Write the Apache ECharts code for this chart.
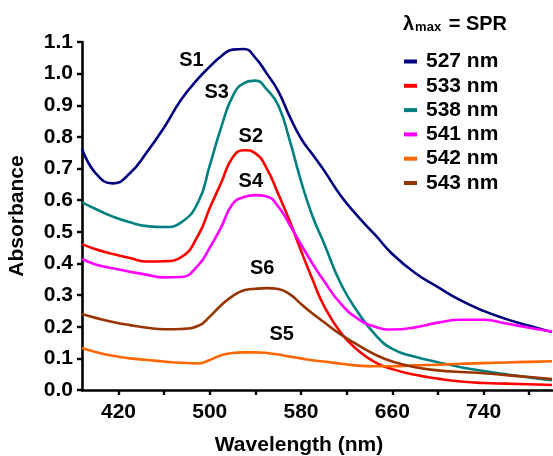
<!DOCTYPE html>
<html>
<head>
<meta charset="utf-8">
<script src="https://cdn.jsdelivr.net/npm/echarts@6/dist/echarts.min.js"></script>
<style>
html,body{margin:0;padding:0;background:#fff;}
#chart{width:553px;height:456px;}
</style>
</head>
<body>
<div id="chart"></div>
<script>
// Wavelength grid (nm)
const wavelength = [388,400,415,430,445,460,475,490,500,510,520,530,540,550,560,570,580,590,600,615,630,645,660,680,700,720,740,760,780,800];
// Absorbance values per sample
const s1_527 = [0.763,0.685,0.653,0.685,0.752,0.83,0.918,0.985,1.022,1.055,1.076,1.078,1.05,1.0,0.945,0.865,0.795,0.745,0.695,0.613,0.548,0.49,0.43,0.37,0.325,0.283,0.25,0.224,0.203,0.183];
const s2_533 = [0.461,0.445,0.43,0.417,0.406,0.407,0.42,0.49,0.575,0.655,0.735,0.758,0.748,0.70,0.62,0.535,0.44,0.35,0.267,0.18,0.125,0.087,0.066,0.048,0.036,0.027,0.022,0.02,0.018,0.016];
const s3_538 = [0.593,0.572,0.548,0.53,0.518,0.515,0.53,0.595,0.71,0.83,0.928,0.97,0.978,0.95,0.90,0.79,0.66,0.55,0.465,0.335,0.245,0.175,0.13,0.105,0.088,0.072,0.06,0.05,0.04,0.031];
const s4_541 = [0.414,0.397,0.385,0.374,0.364,0.356,0.357,0.395,0.45,0.515,0.588,0.61,0.616,0.612,0.58,0.523,0.46,0.40,0.345,0.272,0.225,0.20,0.191,0.198,0.213,0.222,0.222,0.21,0.197,0.185];
const s5_542 = [0.133,0.12,0.108,0.10,0.095,0.09,0.086,0.084,0.095,0.11,0.117,0.119,0.119,0.117,0.112,0.106,0.10,0.094,0.09,0.083,0.077,0.075,0.075,0.078,0.08,0.083,0.085,0.087,0.089,0.091];
const s6_543 = [0.24,0.228,0.215,0.205,0.197,0.192,0.193,0.203,0.232,0.268,0.297,0.315,0.32,0.322,0.319,0.303,0.272,0.242,0.215,0.175,0.142,0.112,0.09,0.072,0.062,0.057,0.053,0.047,0.041,0.035];

const seriesNames = ['527 nm','533 nm','538 nm','541 nm','542 nm','543 nm'];
const seriesValues = [s1_527,s2_533,s3_538,s4_541,s5_542,s6_543];
const seriesColors = ['#000080','#ff0000','#008080','#ff00ff','#ff6600','#993300'];

// Curve annotations (data coordinates)
const annotNames = ['S1','S3','S2','S4','S6','S5'];
const annotX = [484,506,536,536,546,563];
const annotY = [1.042,0.942,0.80,0.658,0.385,0.174];

const xTicks = [420,460,500,540,580,620,660,700,740,780];
const xLabels = [420,500,580,660,740];

const FONT = '"Liberation Sans", Arial, sans-serif';

const chart = echarts.init(document.getElementById('chart'), null, {renderer:'canvas'});

const lineSeries = seriesNames.map((n,i)=>({
  name:n, type:'line', smooth:0.5, showSymbol:false, symbol:'none',
  data: wavelength.map((w,j)=>[w, seriesValues[i][j]]),
  lineStyle:{color:seriesColors[i], width:2.6},
  itemStyle:{color:seriesColors[i]},
  z:2
}));

const annotSeries = {
  type:'scatter', symbolSize:0, silent:true,
  itemStyle:{opacity:1},
  data: annotNames.map((n,i)=>[annotX[i], annotY[i], n]),
  label:{show:true, position:'inside', formatter:p=>p.value[2], color:'#000', fontWeight:'bold', fontSize:20, fontFamily:FONT},
  z:5
};

chart.setOption({
  animation:false,
  backgroundColor:'#fff',
  title:{
    text:'{a|λ}{b|max}{a| = SPR}',
    left:403, top:10, padding:0,
    textStyle:{
      rich:{
        a:{fontSize:20, fontWeight:'bold', fontFamily:FONT, color:'#000', lineHeight:24, verticalAlign:'bottom'},
        b:{fontSize:13, fontWeight:'bold', fontFamily:FONT, color:'#000', lineHeight:24, verticalAlign:'bottom', padding:[0,2,0,1]}
      }
    }
  },
  legend:{
    data:seriesNames, orient:'vertical', left:404, top:51, padding:0,
    icon:'rect', itemWidth:13, itemHeight:4, itemGap:3.3,
    textStyle:{fontSize:21, fontWeight:'bold', fontFamily:FONT, color:'#000', lineHeight:21, padding:[0,0,0,4]}
  },
  grid:{left:82, right:1, top:42, bottom:66, containLabel:false, outerBoundsMode:'none'},
  xAxis:{
    type:'value', min:388, max:800,
    name:'Wavelength (nm)', nameLocation:'middle', nameGap:45,
    nameTextStyle:{fontSize:21, fontWeight:'bold', fontFamily:FONT, color:'#000', padding:[0,36,0,0]},
    axisLine:{show:true, lineStyle:{color:'#000', width:2.6}},
    axisTick:{show:true, inside:false, length:5, lineStyle:{color:'#000', width:2.4}, customValues:xTicks},
    axisLabel:{fontSize:21, fontWeight:'bold', fontFamily:FONT, color:'#000', margin:12, customValues:xLabels},
    splitLine:{show:false}
  },
  yAxis:{
    type:'value', min:0, max:1.1, interval:0.1,
    name:'Absorbance', nameLocation:'middle', nameGap:54, nameRotate:90,
    nameTextStyle:{fontSize:21, fontWeight:'bold', fontFamily:FONT, color:'#000'},
    axisLine:{show:true, lineStyle:{color:'#000', width:2.6}},
    axisTick:{show:true, inside:false, length:5, lineStyle:{color:'#000', width:2.4}},
    axisLabel:{fontSize:21, fontWeight:'bold', fontFamily:FONT, color:'#000', margin:9, formatter:v=>v.toFixed(1)},
    splitLine:{show:false}
  },
  series:[...lineSeries, annotSeries]
});
</script>
</body>
</html>
